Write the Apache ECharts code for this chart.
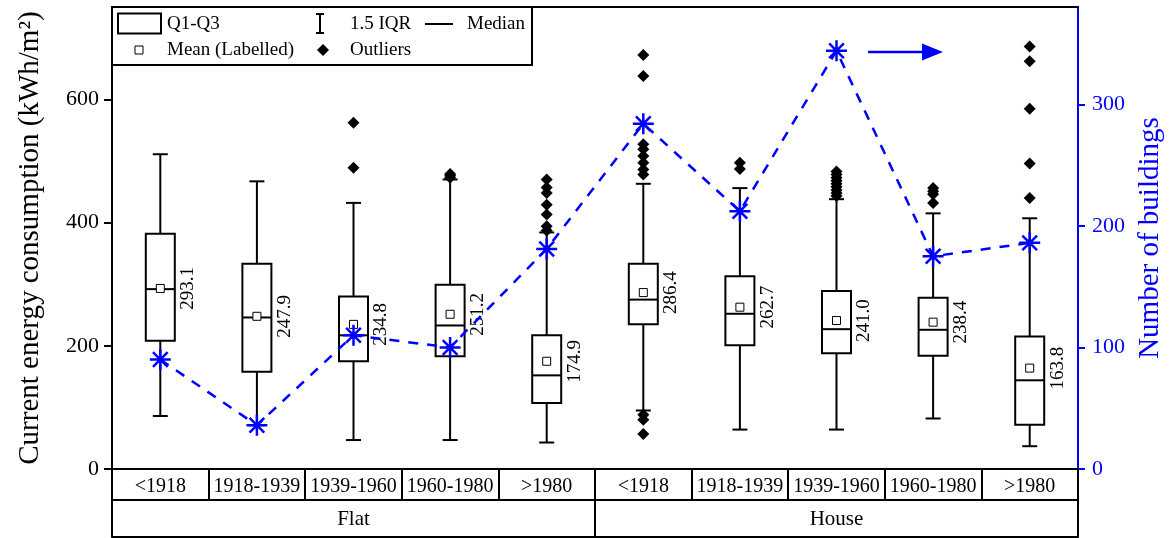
<!DOCTYPE html>
<html><head><meta charset="utf-8">
<script src="https://cdn.jsdelivr.net/npm/echarts@6/dist/echarts.min.js"></script>
<style>html,body{margin:0;padding:0;background:#fff}#c{width:1169px;height:538px}</style>
</head><body><div id="c"></div>
<script>
// ---- data ----
const periods = ['<1918','1918-1939','1939-1960','1960-1980','>1980','<1918','1918-1939','1939-1960','1960-1980','>1980'];
const types = ['Flat','House'];
const whiskerLow  = [86, 71, 47, 47, 43, 95, 64, 64, 82, 37];
const q1          = [208, 158, 175, 183, 107, 235, 201, 188, 184, 72];
const median      = [292, 246, 217, 233, 152, 275, 252, 227, 226, 144];
const q3          = [382, 333, 280, 299, 217, 333, 313, 289, 278, 215];
const whiskerHigh = [511, 467, 432, 470, 384, 463, 456, 438, 415, 407];
const means       = [293.1, 247.9, 234.8, 251.2, 174.9, 286.4, 262.7, 241.0, 238.4, 163.8];
const buildings   = [90, 36, 110, 100, 181, 284, 212, 344, 175, 186];
const outliers = [
  [],
  [],
  [562, 489],
  [479, 476, 473],
  [470, 457, 448, 429, 413, 394, 387],
  [672, 638, 527, 519, 508, 497, 486, 478, 88, 80, 57],
  [497, 487],
  [483, 478, 473, 468, 463, 458, 453, 448, 443],
  [456, 451, 446, 432],
  [686, 662, 585, 496, 440]
];
const leftTicks = [0, 200, 400, 600];
const rightTicks = [0, 100, 200, 300];

// ---- build ----
const FONT = 'Liberation Serif, Times New Roman, serif';
const BLUE = '#0000ff';
const boxData = periods.map((p, i) => [i, whiskerLow[i], q1[i], median[i], q3[i], whiskerHigh[i], means[i]]);
const outlierData = [];
outliers.forEach((arr, i) => arr.forEach(v => outlierData.push([i, v])));

function renderBox(params, api) {
  const i = api.value(0);
  const x = api.coord([i, 0])[0];
  const yMin = api.coord([i, api.value(1)])[1];
  const yQ1 = api.coord([i, api.value(2)])[1];
  const yMed = api.coord([i, api.value(3)])[1];
  const yQ3 = api.coord([i, api.value(4)])[1];
  const yMax = api.coord([i, api.value(5)])[1];
  const yMean = api.coord([i, api.value(6)])[1];
  const hw = 14.5, cw = 7.5;
  const ls = {stroke: '#000', lineWidth: 2};
  return {
    type: 'group',
    children: [
      {type: 'line', shape: {x1: x, y1: yMin, x2: x, y2: yQ1}, style: ls},
      {type: 'line', shape: {x1: x, y1: yQ3, x2: x, y2: yMax}, style: ls},
      {type: 'line', shape: {x1: x - cw, y1: yMin, x2: x + cw, y2: yMin}, style: ls},
      {type: 'line', shape: {x1: x - cw, y1: yMax, x2: x + cw, y2: yMax}, style: ls},
      {type: 'rect', shape: {x: x - hw, y: yQ3, width: hw * 2, height: yQ1 - yQ3}, style: {fill: 'rgba(255,255,255,0)', stroke: '#000', lineWidth: 2}},
      {type: 'line', shape: {x1: x - hw, y1: yMed, x2: x + hw, y2: yMed}, style: ls},
      {type: 'rect', shape: {x: x - 4, y: yMean - 4, width: 8, height: 8}, style: {fill: '#fff', stroke: '#000', lineWidth: 1}},
      {type: 'text', x: x + 28, y: yMean, rotation: Math.PI / 2,
        style: {text: api.value(6).toFixed(1), x: 0, y: 0, align: 'center', verticalAlign: 'middle',
          font: '19px ' + FONT, fill: '#000'}}
    ]
  };
}

const chart = echarts.init(document.getElementById('c'), null, {renderer: 'canvas'});
const axLine = {show: true, onZero: false, lineStyle: {color: '#000', width: 2}};
chart.setOption({
  animation: false,
  backgroundColor: '#fff',
  grid: {left: 112, right: 91, top: 7, bottom: 69, containLabel: false, outerBoundsMode: 'none'},
  xAxis: [
    {type: 'category', data: periods, position: 'bottom', boundaryGap: true,
      axisLine: axLine,
      axisTick: {show: true, length: 31, interval: 0, lineStyle: {color: '#000', width: 2}},
      axisLabel: {interval: 0, fontSize: 20, fontFamily: FONT, color: '#000', margin: 8},
      splitLine: {show: false}},
    {type: 'category', data: types, position: 'bottom', offset: 31, boundaryGap: true,
      axisLine: axLine,
      axisTick: {show: true, length: 37, interval: 0, lineStyle: {color: '#000', width: 2}},
      axisLabel: {interval: 0, fontSize: 21, fontFamily: FONT, color: '#000', margin: 9},
      splitLine: {show: false}},
    {type: 'category', data: types, position: 'bottom', offset: 68,
      axisLine: axLine, axisTick: {show: false}, axisLabel: {show: false}, splitLine: {show: false}},
    {type: 'category', data: types, position: 'top',
      axisLine: axLine, axisTick: {show: false}, axisLabel: {show: false}, splitLine: {show: false}}
  ],
  yAxis: [
    {type: 'value', min: 0, max: 750, position: 'left',
      axisLine: axLine,
      axisTick: {show: true, length: 8, customValues: leftTicks, lineStyle: {color: '#000', width: 2}},
      axisLabel: {customValues: leftTicks, fontSize: 22, fontFamily: FONT, color: '#000', margin: 13},
      splitLine: {show: false},
      name: 'Current energy consumption (kWh/m²)', nameLocation: 'middle', nameGap: 67,
      nameTextStyle: {fontSize: 29, fontFamily: FONT, color: '#000'}},
    {type: 'value', min: 0, max: 380, position: 'right',
      axisLine: {show: true, onZero: false, lineStyle: {color: BLUE, width: 2}},
      axisTick: {show: true, length: 7, customValues: rightTicks, lineStyle: {color: BLUE, width: 2}},
      axisLabel: {customValues: rightTicks, fontSize: 22, fontFamily: FONT, color: BLUE, margin: 14},
      splitLine: {show: false},
      name: 'Number of buildings', nameLocation: 'middle', nameGap: 57, nameRotate: 90,
      nameTextStyle: {fontSize: 29, fontFamily: FONT, color: BLUE}}
  ],
  series: [
    {type: 'custom', xAxisIndex: 0, yAxisIndex: 0, data: boxData, renderItem: renderBox, z: 2,
      encode: {x: 0, y: [1, 5]}},
    {type: 'scatter', xAxisIndex: 0, yAxisIndex: 0, data: outlierData, symbol: 'diamond', symbolSize: 12,
      itemStyle: {color: '#000', opacity: 1}, z: 3},
    {type: 'line', xAxisIndex: 0, yAxisIndex: 1, data: buildings, z: 5,
      symbol: 'path://M10,0L10,20M0,10L20,10M3,3L17,17M17,3L3,17', symbolSize: 21,
      itemStyle: {color: BLUE, borderColor: BLUE, borderWidth: 2.5},
      lineStyle: {color: BLUE, width: 2.5, type: [10, 9]}}
  ],
  graphic: [
    {type: 'group', z: 10, children: [
      {type: 'rect', shape: {x: 112, y: 7, width: 420, height: 58}, style: {fill: '#fff', stroke: '#000', lineWidth: 2}},
      {type: 'rect', shape: {x: 118, y: 13.5, width: 43, height: 20}, style: {fill: 'none', stroke: '#000', lineWidth: 2}},
      {type: 'text', style: {text: 'Q1-Q3', x: 167, y: 24, verticalAlign: 'middle', font: '19px ' + FONT, fill: '#000'}},
      {type: 'line', shape: {x1: 320, y1: 14, x2: 320, y2: 33}, style: {stroke: '#000', lineWidth: 2}},
      {type: 'line', shape: {x1: 316, y1: 14, x2: 324, y2: 14}, style: {stroke: '#000', lineWidth: 2}},
      {type: 'line', shape: {x1: 316, y1: 33, x2: 324, y2: 33}, style: {stroke: '#000', lineWidth: 2}},
      {type: 'text', style: {text: '1.5 IQR', x: 350, y: 24, verticalAlign: 'middle', font: '19px ' + FONT, fill: '#000'}},
      {type: 'line', shape: {x1: 425, y1: 24, x2: 453, y2: 24}, style: {stroke: '#000', lineWidth: 2}},
      {type: 'text', style: {text: 'Median', x: 467, y: 24, verticalAlign: 'middle', font: '19px ' + FONT, fill: '#000'}},
      {type: 'rect', shape: {x: 135, y: 46, width: 8, height: 8}, style: {fill: '#fff', stroke: '#000', lineWidth: 1}},
      {type: 'text', style: {text: 'Mean (Labelled)', x: 167, y: 50, verticalAlign: 'middle', font: '19px ' + FONT, fill: '#000'}},
      {type: 'polygon', shape: {points: [[323, 44], [329, 50], [323, 56], [317, 50]]}, style: {fill: '#000'}},
      {type: 'text', style: {text: 'Outliers', x: 350, y: 50, verticalAlign: 'middle', font: '19px ' + FONT, fill: '#000'}}
    ]},
    {type: 'group', z: 10, children: [
      {type: 'line', shape: {x1: 868, y1: 52, x2: 924, y2: 52}, style: {stroke: BLUE, lineWidth: 2.5}},
      {type: 'polygon', shape: {points: [[922, 43.5], [943, 52], [922, 60.5]]}, style: {fill: BLUE}}
    ]}
  ]
});
</script>
</body></html>
